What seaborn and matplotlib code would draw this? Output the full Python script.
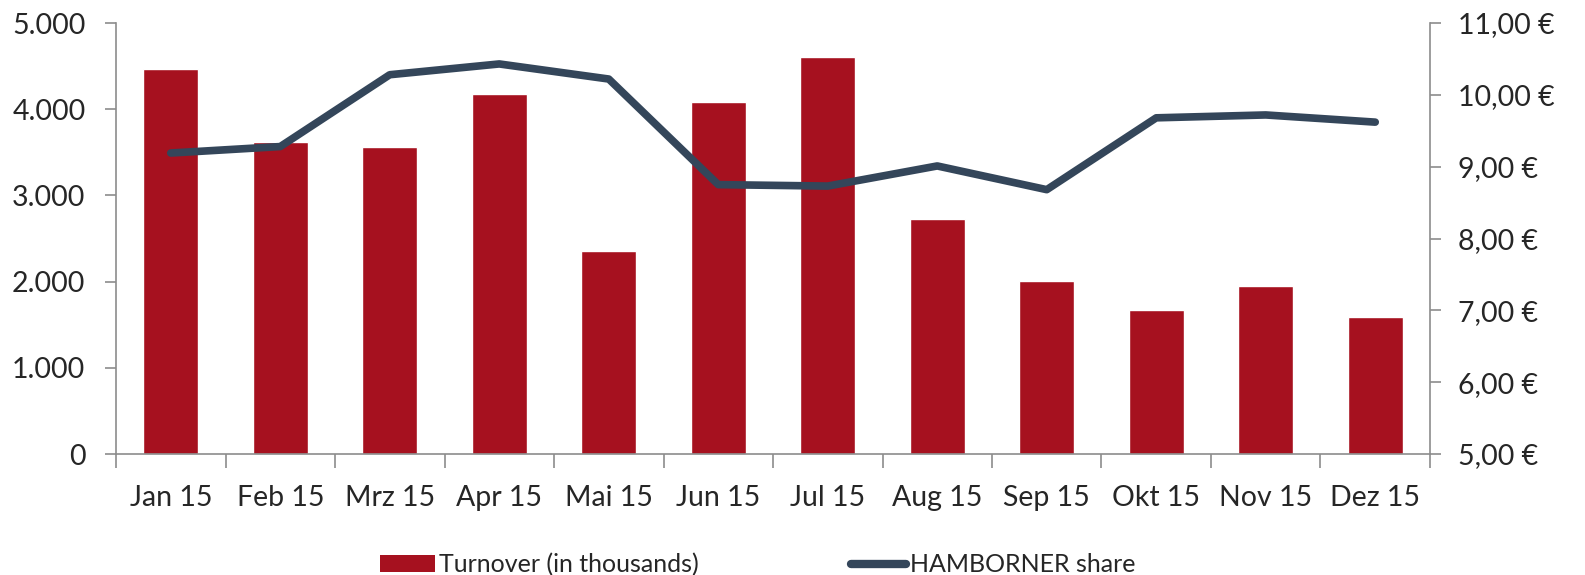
import numpy as np
import pandas as pd
import matplotlib
matplotlib.use('Agg')
import matplotlib.pyplot as plt
import seaborn as sns
from matplotlib.patches import Patch
from matplotlib.lines import Line2D
from matplotlib.ticker import FuncFormatter, MultipleLocator

# Daten
months = ['Jan 15', 'Feb 15', 'Mrz 15', 'Apr 15', 'Mai 15', 'Jun 15',
          'Jul 15', 'Aug 15', 'Sep 15', 'Okt 15', 'Nov 15', 'Dez 15']
turnover = [4470, 3620, 3560, 4180, 2360, 4080, 4600, 2730, 2010, 1670, 1950, 1590]
share = [9.19, 9.28, 10.28, 10.43, 10.22, 8.75, 8.73, 9.01, 8.68, 9.68, 9.72, 9.62]

bar_color = '#a6111f'
line_color = '#34465a'
spine_color = '#8c8c8c'

sns.set_style('white')
plt.rcParams['font.family'] = ['Lato', 'DejaVu Sans']

df = pd.DataFrame({'month': months, 'turnover': turnover, 'share': share})

fig = plt.figure(figsize=(15.85, 5.75), dpi=100)
ax = fig.add_axes([0.0732, 0.2104, 0.8290, 0.7496])

sns.barplot(data=df, x='month', y='turnover', color=bar_color, width=0.5,
            saturation=1, ax=ax)
ax.set_xlim(-0.5, 11.5)
ax.set_ylim(0, 5000)
ax.set_xlabel('')
ax.set_ylabel('')

# Achsen
for s in ['top', 'right']:
    ax.spines[s].set_visible(False)
for s in ['left', 'bottom']:
    ax.spines[s].set_color(spine_color)
    ax.spines[s].set_linewidth(1.2)

ax.yaxis.set_major_locator(MultipleLocator(1000))
ax.yaxis.set_major_formatter(FuncFormatter(lambda v, p: f'{int(v):,}'.replace(',', '.')))
ax.tick_params(axis='y', direction='out', length=8, width=1.2, color=spine_color,
               labelsize=20.5, pad=14, left=True)

ax.set_xticks(np.arange(-0.5, 12, 1))
ax.set_xticklabels([])
ax.set_xticks(np.arange(12), minor=True)
ax.set_xticklabels(months, minor=True)
ax.tick_params(axis='x', which='major', direction='out', length=10, width=1.2,
               color=spine_color, bottom=True)
ax.tick_params(axis='x', which='minor', length=0, labelsize=20.5, pad=22)

ax2 = ax.twinx()
sns.lineplot(x=np.arange(12), y=share, color=line_color, linewidth=5.5,
             solid_capstyle='round', solid_joinstyle='round', ax=ax2)
ax2.set_ylim(5, 11)
ax2.set_xlim(-0.5, 11.5)
for s in ['top', 'left', 'bottom']:
    ax2.spines[s].set_visible(False)
ax2.spines['right'].set_color(spine_color)
ax2.spines['right'].set_linewidth(1.2)
ax2.yaxis.set_major_locator(MultipleLocator(1))
ax2.yaxis.set_major_formatter(FuncFormatter(lambda v, p: f'{v:.2f} €'.replace('.', ',')))
ax2.tick_params(axis='y', direction='out', length=8, width=1.2, color=spine_color,
                labelsize=20.5, pad=12, right=True)

handles = [Patch(facecolor=bar_color, edgecolor='none'),
           Line2D([0], [0], color=line_color, linewidth=6, solid_capstyle='round')]
fig.legend(handles, ['Turnover (in thousands)', 'HAMBORNER share'],
           loc='center', bbox_to_anchor=(0.478, 0.018), ncol=2, frameon=False,
           fontsize=18, handlelength=2.2, handletextpad=0.15, columnspacing=6.1)

fig.savefig('out.png', dpi=100)
